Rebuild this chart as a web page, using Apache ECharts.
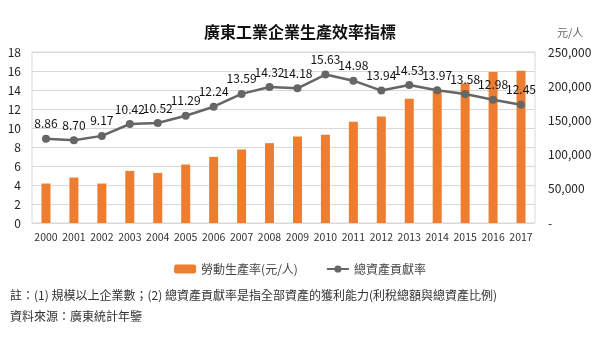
<!DOCTYPE html>
<html><head><meta charset="utf-8">
<script src="https://cdn.jsdelivr.net/npm/echarts@6/dist/echarts.min.js"></script>
<style>html,body{margin:0;padding:0;background:#fff}#c{width:600px;height:340px}</style>
</head><body><div id="c"></div>
<script>
const years = ['2000','2001','2002','2003','2004','2005','2006','2007','2008','2009','2010','2011','2012','2013','2014','2015','2016','2017'];
const laborProductivity = [57700,66500,57700,76200,73200,85500,96700,107500,116700,126500,128900,147900,155800,181600,193300,204200,220700,222600];
const assetContribution = [8.86,8.70,9.17,10.42,10.52,11.29,12.24,13.59,14.32,14.18,15.63,14.98,13.94,14.53,13.97,13.58,12.98,12.45];
const leftTicks = {min:0,max:18,interval:2};
const rightTicks = {min:0,max:250000,interval:50000};
const FONT = '"Noto Sans CJK TC","Noto Sans",sans-serif';
const chart = echarts.init(document.getElementById('c'));
chart.setOption({
  animation:false,
  textStyle:{fontFamily:FONT},
  title:{text:'廣東工業企業生產效率指標',left:'center',top:19,textStyle:{fontSize:16,fontWeight:'bold',color:'#111',fontFamily:FONT}},
  grid:{left:32,right:65,top:52,bottom:117,show:true,borderColor:'#d9d9d9',borderWidth:1},
  legend:{bottom:60,left:'center',itemWidth:22,itemHeight:9,itemGap:28,textStyle:{fontSize:12,color:'#444',fontFamily:FONT},
    data:['勞動生產率(元/人)','總資產貢獻率']},
  xAxis:{type:'category',data:years,axisLine:{show:false},axisTick:{show:false},
    axisLabel:{fontSize:10.5,color:'#333',margin:9,interval:0,fontFamily:FONT}},
  yAxis:[
    {type:'value',min:leftTicks.min,max:leftTicks.max,interval:leftTicks.interval,position:'left',
      axisLine:{show:false},axisTick:{show:false},
      axisLabel:{fontSize:12,color:'#222',margin:11,fontFamily:FONT},
      splitLine:{lineStyle:{color:'#d9d9d9',width:1}}},
    {type:'value',min:rightTicks.min,max:rightTicks.max,interval:rightTicks.interval,position:'right',
      axisLine:{show:false},axisTick:{show:false},splitLine:{show:false},
      axisLabel:{fontSize:12,color:'#222',margin:13,fontFamily:FONT,
        formatter:v=>v===0?'-':v.toLocaleString('en-US')}}
  ],
  graphic:[
    {type:'text',left:557,top:27,style:{text:'元/人',fontSize:11,fill:'#666',fontFamily:FONT}},
    {type:'text',left:10,top:289,style:{text:'註：(1) 規模以上企業數；(2) 總資產貢獻率是指全部資產的獲利能力(利稅總額與總資產比例)',fontSize:12,fill:'#333',fontFamily:FONT}},
    {type:'text',left:10,top:310,style:{text:'資料來源：廣東統計年鑒',fontSize:12,fill:'#333',fontFamily:FONT}}
  ],
  series:[
    {name:'勞動生產率(元/人)',type:'bar',yAxisIndex:1,data:laborProductivity,barWidth:9,
      itemStyle:{color:'#ED7D31'}},
    {name:'總資產貢獻率',type:'line',yAxisIndex:0,data:assetContribution,
      symbol:'circle',symbolSize:8,
      lineStyle:{color:'#666',width:2.5},itemStyle:{color:'#666'},
      label:{show:true,position:'top',distance:5,fontSize:12,color:'#111',fontFamily:FONT,
        formatter:p=>p.value.toFixed(2)}}
  ]
});
</script></body></html>
